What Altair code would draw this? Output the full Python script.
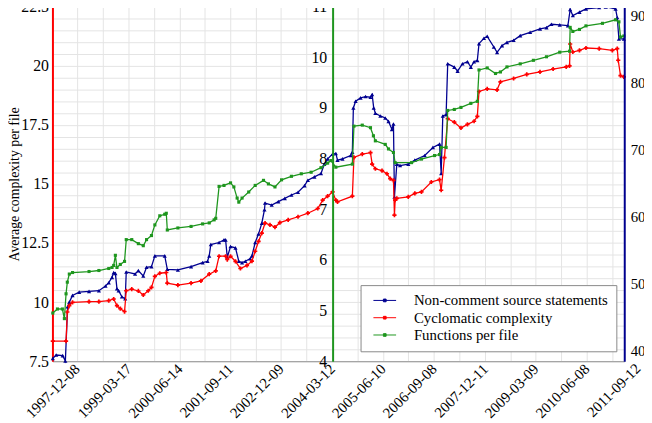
import altair as alt
import pandas as pd

# ---------------- data (decimal years) ----------------
NCSS_YEARS = [1997.346, 1997.429, 1997.588, 1997.654, 1997.709, 1997.751, 1997.830, 1997.993,
              1998.235, 1998.477, 1998.639, 1998.719, 1998.799, 1998.840, 1998.881, 1998.920,
              1998.961, 1999.041, 1999.123, 1999.148, 1999.365, 1999.445, 1999.566, 1999.646,
              1999.767, 1999.850, 2000.092, 2000.155, 2000.414, 2000.736, 2001.019, 2001.140,
              2001.181, 2001.220, 2001.423, 2001.544, 2001.583, 2001.624, 2001.704, 2001.825,
              2001.907, 2001.987, 2002.067, 2002.188, 2002.229, 2002.309, 2002.392, 2002.472,
              2002.537, 2002.551, 2002.714, 2002.876, 2003.036, 2003.198, 2003.360, 2003.520,
              2003.602, 2003.762, 2003.924, 2004.004, 2004.086, 2004.207, 2004.287, 2004.328,
              2004.449, 2004.650, 2004.691, 2004.716, 2004.771, 2004.892, 2005.014, 2005.135,
              2005.176, 2005.214, 2005.255, 2005.377, 2005.498, 2005.577, 2005.660, 2005.699,
              2005.723, 2005.781, 2005.861, 2006.062, 2006.224, 2006.466, 2006.667, 2006.829,
              2006.870, 2006.909, 2006.991, 2007.030, 2007.192, 2007.272, 2007.393, 2007.514,
              2007.597, 2007.677, 2007.757, 2007.798, 2007.919, 2007.999, 2008.161, 2008.241,
              2008.362, 2008.483, 2008.645, 2008.807, 2009.049, 2009.292, 2009.451, 2009.572,
              2009.776, 2009.976, 2010.032, 2010.097, 2010.260, 2010.420, 2010.744, 2010.904,
              2011.146, 2011.187, 2011.228, 2011.349]
NCSS_VALUES = [38.8, 39.3, 39.2, 38.4, 46.5, 47.2, 48.2, 48.7,
               48.8, 48.9, 49.6, 50.1, 50.9, 51.6, 51.5, 49.2,
               48.9, 48.0, 47.7, 51.7, 51.4, 51.9, 51.1, 52.4,
               52.5, 54.1, 54.1, 52.1, 52.0, 52.5, 53.1, 53.3,
               54.1, 55.8, 56.1, 56.5, 56.5, 53.9, 55.5, 55.3,
               53.3, 53.1, 53.3, 53.7, 54.1, 56.1, 57.4, 59.0,
               61.0, 62.0, 61.7, 62.2, 62.7, 63.2, 63.6, 64.6,
               65.4, 65.9, 66.4, 67.8, 68.6, 69.3, 69.4, 68.4,
               68.6, 69.1, 69.6, 76.2, 77.2, 77.7, 77.9, 77.8,
               78.2, 76.2, 75.4, 75.0, 74.7, 74.2, 73.0, 73.8,
               62.9, 67.8, 67.6, 67.8, 68.4, 69.1, 70.3, 70.8,
               66.4, 75.0, 75.2, 82.8, 82.3, 81.7, 82.8, 83.1,
               82.3, 83.1, 83.3, 85.8, 86.6, 86.9, 85.3, 84.5,
               85.5, 86.0, 86.3, 87.0, 87.5, 88.0, 88.2, 88.7,
               88.6, 88.5, 90.9, 90.0, 90.5, 91.0, 91.2, 91.3,
               91.0, 89.7, 86.5, 86.5]

CC_YEARS = [1997.346, 1997.671, 1997.702, 1997.751, 1997.830, 1998.235, 1998.477, 1998.719,
            1998.840, 1998.920, 1999.002, 1999.106, 1999.148, 1999.283, 1999.445, 1999.566,
            1999.687, 1999.767, 1999.850, 1999.971, 2000.130, 2000.155, 2000.414, 2000.736,
            2000.978, 2001.181, 2001.341, 2001.423, 2001.583, 2001.624, 2001.704, 2001.825,
            2001.946, 2002.108, 2002.229, 2002.309, 2002.392, 2002.472, 2002.551, 2002.672,
            2002.794, 2002.915, 2003.118, 2003.360, 2003.602, 2003.844, 2003.965, 2004.086,
            2004.207, 2004.287, 2004.328, 2004.691, 2004.730, 2004.934, 2005.135, 2005.176,
            2005.255, 2005.418, 2005.539, 2005.619, 2005.699, 2005.723, 2005.740, 2005.781,
            2006.062, 2006.224, 2006.386, 2006.628, 2006.829, 2006.870, 2006.950, 2007.030,
            2007.192, 2007.355, 2007.514, 2007.677, 2007.757, 2007.798, 2007.999, 2008.241,
            2008.323, 2008.645, 2008.967, 2009.292, 2009.613, 2009.935, 2010.017, 2010.032,
            2010.097, 2010.260, 2010.420, 2010.744, 2011.066, 2011.187, 2011.211, 2011.267,
            2011.349]
CC_VALUES = [8.35, 8.35, 9.58, 9.85, 9.99, 10.02, 10.02, 10.06,
             10.13, 9.85, 9.72, 9.60, 10.48, 10.55, 10.47, 10.30,
             10.48, 10.62, 11.09, 11.22, 11.25, 10.80, 10.72, 10.80,
             10.90, 11.18, 11.32, 11.94, 11.94, 11.80, 11.94, 11.72,
             11.42, 11.55, 11.73, 12.15, 12.57, 12.92, 13.34, 13.27,
             13.17, 13.36, 13.48, 13.61, 13.76, 13.96, 14.31, 14.48,
             14.66, 14.31, 14.24, 14.48, 16.12, 16.26, 16.32, 15.84,
             15.64, 15.56, 15.43, 15.22, 15.15, 13.68, 14.31, 14.39,
             14.45, 14.60, 14.66, 15.08, 15.18, 14.73, 16.11, 17.76,
             17.61, 17.37, 17.52, 17.65, 17.86, 18.91, 19.02, 18.98,
             19.32, 19.46, 19.63, 19.74, 19.86, 19.95, 19.99, 20.92,
             20.58, 20.65, 20.75, 20.72, 20.65, 20.72, 20.23, 19.58,
             19.53]

FPF_YEARS = [1997.346, 1997.460, 1997.581, 1997.630, 1997.671, 1997.702, 1997.751, 1997.830,
             1998.235, 1998.477, 1998.719, 1998.799, 1998.840, 1998.881, 1998.920, 1999.002,
             1999.106, 1999.148, 1999.283, 1999.445, 1999.566, 1999.646, 1999.767, 1999.850,
             1999.971, 2000.092, 2000.130, 2000.155, 2000.414, 2000.736, 2001.019, 2001.181,
             2001.302, 2001.341, 2001.423, 2001.544, 2001.704, 2001.786, 2001.866, 2001.907,
             2001.987, 2002.150, 2002.309, 2002.513, 2002.634, 2002.794, 2002.956, 2003.198,
             2003.440, 2003.682, 2003.924, 2004.086, 2004.166, 2004.287, 2004.691, 2004.730,
             2004.934, 2005.135, 2005.207, 2005.255, 2005.498, 2005.577, 2005.699, 2005.740,
             2006.144, 2006.386, 2006.708, 2006.829, 2006.870, 2006.991, 2007.030, 2007.192,
             2007.355, 2007.597, 2007.757, 2007.798, 2007.999, 2008.202, 2008.323, 2008.483,
             2008.807, 2009.129, 2009.451, 2009.776, 2010.017, 2010.032, 2010.097, 2010.260,
             2010.420, 2010.824, 2011.146, 2011.228, 2011.267, 2011.349]
FPF_VALUES = [4.95, 5.03, 5.03, 4.84, 5.33, 5.56, 5.72, 5.75,
              5.77, 5.79, 5.83, 5.85, 5.89, 6.09, 5.85, 5.91,
              5.97, 6.40, 6.40, 6.32, 6.28, 6.40, 6.48, 6.69,
              6.87, 6.90, 6.92, 6.59, 6.63, 6.66, 6.71, 6.73,
              6.79, 6.82, 7.45, 7.47, 7.52, 7.44, 7.22, 7.14,
              7.22, 7.34, 7.47, 7.57, 7.50, 7.44, 7.58, 7.65,
              7.70, 7.73, 7.82, 7.91, 7.96, 7.83, 7.89, 8.64,
              8.66, 8.61, 8.45, 8.35, 8.28, 8.19, 8.12, 7.92,
              7.92, 7.99, 8.06, 8.08, 8.22, 8.22, 8.95, 8.97,
              9.01, 9.09, 9.13, 9.75, 9.79, 9.68, 9.71, 9.81,
              9.87, 9.94, 10.01, 10.10, 10.12, 10.59, 10.51, 10.55,
              10.62, 10.67, 10.74, 10.70, 10.40, 10.42]

TICK_LABELS = ["1997-12-08", "1999-03-17", "2000-06-14", "2001-09-11", "2002-12-09",
               "2004-03-12", "2005-06-10", "2006-09-08", "2007-12-11", "2009-03-09",
               "2010-06-08", "2011-09-12"]
SERIES = ["Non-comment source statements", "Cyclomatic complexity", "Functions per file"]
COLORS = ["#000090", "#ff0000", "#1e961e"]

# ---------------- helpers ----------------
def year_to_ts(y):
    yi = int(y)
    a = pd.Timestamp(year=yi, month=1, day=1)
    b = pd.Timestamp(year=yi + 1, month=1, day=1)
    return (a + (b - a) * (y - yi)).round("h")


def frame(years, values, name):
    return pd.DataFrame({"date": [year_to_ts(y) for y in years],
                         "value": values, "series": name})


def to_dt(t):
    return alt.DateTime(year=t.year, month=t.month, date=t.day, hours=t.hour)


FONT = "Liberation Serif, 'Times New Roman', Times, serif"
W, H = 579, 359
GRID = "#e4e4e4"

df_ncss = frame(NCSS_YEARS, NCSS_VALUES, SERIES[0])
df_cc = frame(CC_YEARS, CC_VALUES, SERIES[1])
df_fpf = frame(FPF_YEARS, FPF_VALUES, SERIES[2])

label_ts = [pd.Timestamp(s) for s in TICK_LABELS]
grid_ts = []
for a, b in zip(label_ts[:-1], label_ts[1:]):
    grid_ts.append(a)
    grid_ts.append((a + (b - a) / 2).round("h"))

lbl_list = "[" + ",".join("'%s'" % s for s in TICK_LABELS) + "]"
x_label_expr = ("indexof(%s, timeFormat(datum.value, '%%Y-%%m-%%d')) >= 0 ? "
                "timeFormat(datum.value, '%%Y-%%m-%%d') : ''" % lbl_list)

x_scale = alt.Scale(domain=[alt.DateTime(year=1997, month=5, date=4),
                            alt.DateTime(year=2011, month=5, date=12)])
x_axis = alt.Axis(values=[to_dt(t) for t in grid_ts], labelExpr=x_label_expr,
                  labelAngle=315, labelAlign="right", labelBaseline="middle",
                  labelPadding=5, labelFlush=False, labelOverlap=False,
                  ticks=False, grid=True, gridColor=GRID, domainColor="#999999",
                  labelFont=FONT, labelFontSize=15, labelColor="black", title=None)
x_enc = alt.X("date:T", scale=x_scale, axis=x_axis)

legend = alt.Legend(title=None, orient="none", legendX=312, legendY=282,
                    symbolType="M-2,0H2M-0.24,-0.24H0.24V0.24H-0.24Z",
                    symbolSize=132, symbolStrokeWidth=1, symbolOffset=9,
                    labelFont=FONT, labelFontSize=15, labelColor="black",
                    labelOffset=22, labelLimit=400,
                    strokeColor="#888888", fillColor="white",
                    padding=8, rowPadding=1.5)
color_enc = alt.Color("series:N", scale=alt.Scale(domain=SERIES, range=COLORS),
                      legend=legend)

blue = alt.Chart(df_ncss).mark_line(
    strokeWidth=1.3,
    point=alt.OverlayMarkDef(shape="triangle-up", size=18, filled=True)
).encode(
    x=x_enc,
    y=alt.Y("value:Q", scale=alt.Scale(domain=[38.38, 91.33], nice=False, zero=False),
            axis=alt.Axis(orient="right", values=[40, 50, 60, 70, 80, 90], grid=False,
                          ticks=False, domainColor=COLORS[0], domainWidth=2,
                          labelPadding=6, labelFont=FONT, labelFontSize=15,
                          labelColor="black", title=None, zindex=1)),
    color=color_enc,
)

red = alt.Chart(df_cc).mark_line(
    strokeWidth=1.3,
    point=alt.OverlayMarkDef(shape="cross", size=18, filled=True)
).encode(
    x=x_enc,
    y=alt.Y("value:Q", scale=alt.Scale(domain=[7.5, 22.5], nice=False, zero=False),
            axis=alt.Axis(orient="left", values=[7.5 + 0.5 * i for i in range(31)],
                          format="~g",
                          labelExpr="datum.value % 2.5 == 0 ? datum.label : ''",
                          grid=True, gridColor=GRID, ticks=False,
                          domainColor=COLORS[1], domainWidth=2, labelPadding=4,
                          labelFont=FONT, labelFontSize=16, labelColor="black",
                          title="Average complexity per file", titleFont=FONT,
                          titleFontSize=14, titleFontWeight="normal",
                          titleColor="black", titleX=-38, titleBaseline="middle")),
    color=color_enc,
)

green = alt.Chart(df_fpf).mark_line(
    strokeWidth=1.3,
    point=alt.OverlayMarkDef(shape="square", size=10, filled=True)
).encode(
    x=x_enc,
    y=alt.Y("value:Q", scale=alt.Scale(domain=[4, 11], nice=False, zero=False),
            axis=alt.Axis(orient="left", offset=-283.7, values=list(range(4, 12)),
                          grid=False, ticks=False, domainColor=COLORS[2],
                          domainWidth=2, labelPadding=6, labelFont=FONT,
                          labelFontSize=16, labelColor="black", title=None,
                          zindex=1)),
    color=color_enc,
)

last_label = alt.Chart(pd.DataFrame({"date": [label_ts[-1]],
                                     "txt": [TICK_LABELS[-1]]})).mark_text(
    angle=315, align="right", baseline="middle", font=FONT, fontSize=15,
    color="black"
).encode(x=x_enc, y=alt.value(H + 5), text="txt:N")

chart = alt.layer(blue, red, green, last_label).resolve_scale(
    y="independent"
).properties(
    width=W, height=H,
    autosize=alt.AutoSizeParams(type="none"),
    padding={"left": 45, "top": -4, "right": 20, "bottom": 60},
).configure_view(stroke="#aaaaaa")

chart.save("out.html", embed_options={"renderer": "svg", "actions": False})
